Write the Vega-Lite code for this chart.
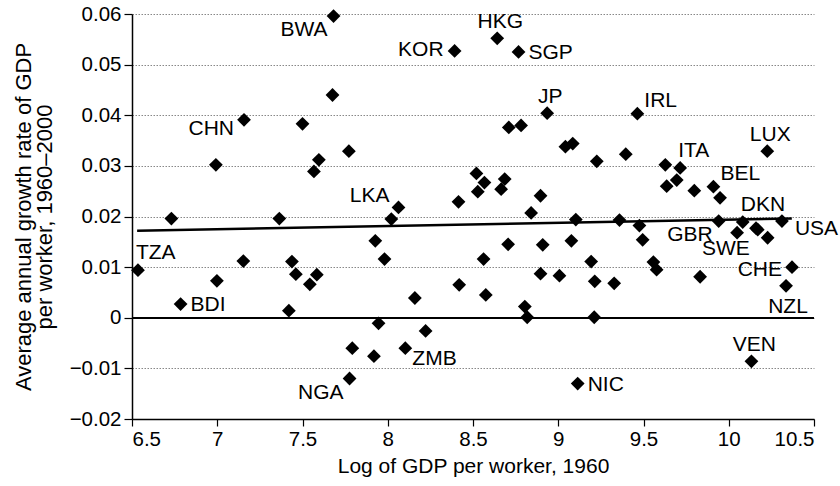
{
  "$schema": "https://vega.github.io/schema/vega-lite/v6.json",
  "autosize": "none",
  "width": 682,
  "height": 405,
  "padding": {"left": 132, "top": 14, "right": 26, "bottom": 67},
  "background": "white",
  "config": {
    "view": {"stroke": null},
    "font": "Liberation Sans",
    "axis": {
      "labelFont": "Liberation Sans",
      "titleFont": "Liberation Sans",
      "labelFontSize": 20.5,
      "titleFontSize": 21,
      "titleFontWeight": "normal",
      "labelColor": "black",
      "titleColor": "black",
      "domainColor": "black",
      "tickColor": "black",
      "domainWidth": 1.5,
      "tickWidth": 1.2
    },
    "text": {"fontSize": 21, "font": "Liberation Sans", "baseline": "middle"}
  },
  "data": {
    "values": [
      {"x": 6.535, "y": 0.0094, "label": "TZA"},
      {"x": 6.731, "y": 0.0196, "label": ""},
      {"x": 6.785, "y": 0.0027, "label": "BDI"},
      {"x": 6.992, "y": 0.0302, "label": ""},
      {"x": 6.998, "y": 0.0073, "label": ""},
      {"x": 7.157, "y": 0.0391, "label": "CHN"},
      {"x": 7.153, "y": 0.0112, "label": ""},
      {"x": 7.364, "y": 0.0196, "label": ""},
      {"x": 7.42, "y": 0.0014, "label": ""},
      {"x": 7.438, "y": 0.0111, "label": ""},
      {"x": 7.461, "y": 0.0086, "label": ""},
      {"x": 7.5, "y": 0.0383, "label": ""},
      {"x": 7.543, "y": 0.0066, "label": ""},
      {"x": 7.567, "y": 0.0289, "label": ""},
      {"x": 7.584, "y": 0.0085, "label": ""},
      {"x": 7.596, "y": 0.0312, "label": ""},
      {"x": 7.676, "y": 0.044, "label": ""},
      {"x": 7.682, "y": 0.0596, "label": "BWA"},
      {"x": 7.772, "y": 0.0329, "label": ""},
      {"x": 7.776, "y": -0.012, "label": "NGA"},
      {"x": 7.792, "y": -0.006, "label": ""},
      {"x": 7.919, "y": -0.0076, "label": ""},
      {"x": 7.927, "y": 0.0152, "label": ""},
      {"x": 7.946, "y": -0.0011, "label": ""},
      {"x": 7.981, "y": 0.0116, "label": ""},
      {"x": 8.021, "y": 0.0195, "label": ""},
      {"x": 8.063, "y": 0.0218, "label": "LKA"},
      {"x": 8.103, "y": -0.006, "label": "ZMB"},
      {"x": 8.159, "y": 0.0039, "label": ""},
      {"x": 8.222, "y": -0.0026, "label": ""},
      {"x": 8.392, "y": 0.0527, "label": "KOR"},
      {"x": 8.415, "y": 0.0229, "label": ""},
      {"x": 8.419, "y": 0.0065, "label": ""},
      {"x": 8.52, "y": 0.0285, "label": ""},
      {"x": 8.528, "y": 0.0249, "label": ""},
      {"x": 8.562, "y": 0.0116, "label": ""},
      {"x": 8.567, "y": 0.0267, "label": ""},
      {"x": 8.575, "y": 0.0045, "label": ""},
      {"x": 8.642, "y": 0.0552, "label": "HKG"},
      {"x": 8.665, "y": 0.0254, "label": ""},
      {"x": 8.686, "y": 0.0274, "label": ""},
      {"x": 8.706, "y": 0.0145, "label": ""},
      {"x": 8.71, "y": 0.0376, "label": ""},
      {"x": 8.767, "y": 0.0525, "label": "SGP"},
      {"x": 8.782, "y": 0.038, "label": ""},
      {"x": 8.804, "y": 0.0022, "label": ""},
      {"x": 8.818, "y": 0.0001, "label": ""},
      {"x": 8.841, "y": 0.0207, "label": ""},
      {"x": 8.896, "y": 0.0241, "label": ""},
      {"x": 8.896, "y": 0.0087, "label": ""},
      {"x": 8.909, "y": 0.0144, "label": ""},
      {"x": 8.935, "y": 0.0404, "label": "JP"},
      {"x": 9.007, "y": 0.0083, "label": ""},
      {"x": 9.042, "y": 0.0338, "label": ""},
      {"x": 9.077, "y": 0.0152, "label": ""},
      {"x": 9.085, "y": 0.0344, "label": ""},
      {"x": 9.103, "y": 0.0194, "label": ""},
      {"x": 9.114, "y": -0.013, "label": "NIC"},
      {"x": 9.193, "y": 0.0111, "label": ""},
      {"x": 9.211, "y": 0.0001, "label": ""},
      {"x": 9.214, "y": 0.0072, "label": ""},
      {"x": 9.226, "y": 0.0309, "label": ""},
      {"x": 9.328, "y": 0.0068, "label": ""},
      {"x": 9.359, "y": 0.0193, "label": ""},
      {"x": 9.396, "y": 0.0323, "label": ""},
      {"x": 9.464, "y": 0.0403, "label": "IRL"},
      {"x": 9.476, "y": 0.0182, "label": ""},
      {"x": 9.495, "y": 0.0154, "label": ""},
      {"x": 9.558, "y": 0.011, "label": ""},
      {"x": 9.577, "y": 0.0095, "label": ""},
      {"x": 9.628, "y": 0.0302, "label": ""},
      {"x": 9.636, "y": 0.026, "label": ""},
      {"x": 9.695, "y": 0.0272, "label": ""},
      {"x": 9.715, "y": 0.0296, "label": "ITA"},
      {"x": 9.798, "y": 0.0251, "label": ""},
      {"x": 9.832, "y": 0.0081, "label": ""},
      {"x": 9.91, "y": 0.0259, "label": "BEL"},
      {"x": 9.941, "y": 0.0191, "label": "GBR"},
      {"x": 9.949, "y": 0.0237, "label": ""},
      {"x": 10.049, "y": 0.0168, "label": ""},
      {"x": 10.082, "y": 0.0189, "label": "DKN"},
      {"x": 10.133, "y": -0.0086, "label": "VEN"},
      {"x": 10.16, "y": 0.0177, "label": ""},
      {"x": 10.17, "y": 0.0174, "label": "SWE"},
      {"x": 10.226, "y": 0.0329, "label": "LUX"},
      {"x": 10.228, "y": 0.0158, "label": ""},
      {"x": 10.312, "y": 0.0191, "label": "USA"},
      {"x": 10.336, "y": 0.0063, "label": "NZL"},
      {"x": 10.371, "y": 0.01, "label": "CHE"}
    ]
  },
  "encoding": {
    "x": {
      "field": "x", "type": "quantitative",
      "scale": {"domain": [6.5, 10.5], "nice": false, "zero": false},
      "axis": {
        "title": "Log of GDP per worker, 1960",
        "values": [6.5, 7, 7.5, 8, 8.5, 9, 9.5, 10, 10.5],
        "format": "~g",
        "grid": false,
        "tickSize": 7,
        "labelPadding": 3,
        "titlePadding": 6
      }
    },
    "y": {
      "field": "y", "type": "quantitative",
      "scale": {"domain": [-0.02, 0.06], "nice": false, "zero": false},
      "axis": {
        "title": ["Average annual growth rate of GDP", "per worker, 1960–2000"],
        "titleFontSize": 22,
        "values": [-0.02, -0.01, 0, 0.01, 0.02, 0.03, 0.04, 0.05, 0.06],
        "format": "~g",
        "grid": true,
        "gridColor": "#888888",
        "gridDash": [1.5, 1.5],
        "gridWidth": 1,
        "tickSize": 8,
        "labelPadding": 3,
        "titlePadding": 13,
        "titleLineHeight": 21
      }
    }
  },
  "layer": [
    {
      "mark": {"type": "rule", "color": "black", "strokeWidth": 1.2},
      "encoding": {"y": {"datum": 0}, "x": null}
    },
    {
      "data": {"values": [{"x": 6.53, "y": 0.0172}, {"x": 10.37, "y": 0.0196}]},
      "mark": {"type": "line", "color": "black", "strokeWidth": 2.5}
    },
    {
      "mark": {"type": "point", "shape": "diamond", "filled": true, "color": "black", "size": 190, "opacity": 1}
    },
    {
      "transform": [{"filter": {"field": "label", "oneOf": ["BDI", "NIC", "SGP"]}}],
      "mark": {"type": "text", "align": "left", "dx": 10, "dy": 1},
      "encoding": {"text": {"field": "label"}}
    },
    {
      "transform": [{"filter": {"field": "label", "equal": "KOR"}}],
      "mark": {"type": "text", "align": "right", "dx": -11, "dy": -1},
      "encoding": {"text": {"field": "label"}}
    },
    {
      "transform": [{"filter": {"field": "label", "equal": "CHE"}}],
      "mark": {"type": "text", "align": "right", "dx": -10, "dy": 3},
      "encoding": {"text": {"field": "label"}}
    },
    {
      "transform": [{"filter": {"field": "label", "oneOf": ["HKG", "JP", "VEN", "LUX"]}}],
      "mark": {"type": "text", "align": "center", "dx": 3, "dy": -16},
      "encoding": {"text": {"field": "label"}}
    },
    {
      "transform": [{"filter": {"field": "label", "oneOf": ["TZA", "ITA", "DKN"]}}],
      "mark": {"type": "text", "align": "left", "dx": -2, "dy": -17},
      "encoding": {"text": {"field": "label"}}
    },
    {
      "transform": [{"filter": {"field": "label", "oneOf": ["BEL", "IRL"]}}],
      "mark": {"type": "text", "align": "left", "dx": 7, "dy": -13},
      "encoding": {"text": {"field": "label"}}
    },
    {
      "transform": [{"filter": {"field": "label", "oneOf": ["BWA", "NGA", "GBR"]}}],
      "mark": {"type": "text", "align": "right", "dx": -6, "dy": 14},
      "encoding": {"text": {"field": "label"}}
    },
    {
      "transform": [{"filter": {"field": "label", "equal": "CHN"}}],
      "mark": {"type": "text", "align": "right", "dx": -10, "dy": 9},
      "encoding": {"text": {"field": "label"}}
    },
    {
      "transform": [{"filter": {"field": "label", "equal": "LKA"}}],
      "mark": {"type": "text", "align": "right", "dx": -9, "dy": -11},
      "encoding": {"text": {"field": "label"}}
    },
    {
      "transform": [{"filter": {"field": "label", "equal": "ZMB"}}],
      "mark": {"type": "text", "align": "left", "dx": 7, "dy": 11},
      "encoding": {"text": {"field": "label"}}
    },
    {
      "transform": [{"filter": {"field": "label", "equal": "USA"}}],
      "mark": {"type": "text", "align": "left", "dx": 13, "dy": 8},
      "encoding": {"text": {"field": "label"}}
    },
    {
      "transform": [{"filter": {"field": "label", "equal": "NZL"}}],
      "mark": {"type": "text", "align": "center", "dx": 2, "dy": 21},
      "encoding": {"text": {"field": "label"}}
    },
    {
      "transform": [{"filter": {"field": "label", "equal": "SWE"}}],
      "mark": {"type": "text", "align": "right", "dx": -8, "dy": 19},
      "encoding": {"text": {"field": "label"}}
    }
  ]
}
